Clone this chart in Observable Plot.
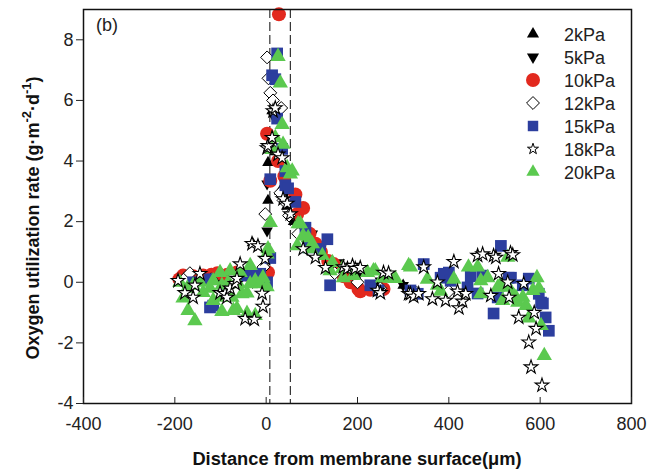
<!DOCTYPE html>
<html>
<head>
<meta charset="utf-8">
<script src="https://cdn.jsdelivr.net/npm/d3@7"></script>
<script src="https://cdn.jsdelivr.net/npm/@observablehq/plot@0.6"></script>
<style>
  html, body { margin: 0; padding: 0; background: #fff; }
  #chart { position: relative; width: 671px; height: 471px; }
</style>
</head>
<body>
<div id="chart"></div>
<script>
// ---- Data ----
const seriesNames = ["2kPa", "5kPa", "10kPa", "12kPa", "15kPa", "18kPa", "20kPa"];
const xTicks = [-400, -200, 0, 200, 400, 600, 800];
const yTicks = [-4, -2, 0, 2, 4, 6, 8];
const boundaryLines = [8, 53];

const kPa2 = [[-185,0.05],[-150,0.1],[-100,0.1],[-60,0.15],[-30,1.3],[0,0.2],[4,2.7],[4,3.95],[13,5.65],[20,4.3],[30,3.0],[45,2.5],[60,2.0],[80,1.5],[100,1.0],[150,0.4],[200,0.1],[250,0],[300,-0.1]];
const kPa5 = [[-150,0.1],[-100,0],[-30,0],[2,1.7],[2,3.25],[15,5.5],[30,4.3],[45,3.0],[81,2.45],[97,1.6],[101,1.6],[120,1.1],[160,0.65],[200,0.2],[250,0.05],[300,-0.1]];
const kPa10 = [[-190,0.1],[-182,0.22],[-160,0.2],[-138,0.22],[-120,0.25],[-107,0.3],[-85,0.25],[-64,0.32],[-40,0.25],[-20,0.25],[4,0.32],[2,4.9],[9,3.35],[28,8.84],[26,4.0],[40,3.5],[64,2.9],[68,2.25],[81,2.45],[95,1.6],[108,1.27],[120,1.0],[136,0.7],[148,0.6],[170,0.2],[185,0],[202,-0.22],[206,-0.3],[228,-0.25],[257,-0.22]];
const kPa12 = [[-180,0.1],[-167,0.3],[-120,0.1],[-70,0.2],[-6,0.5],[-2,2.25],[2,7.42],[5,6.73],[9,6.25],[15,6.0],[33,5.75],[31,2.95],[38,2.7],[50,2.2],[70,1.6],[100,1.0],[150,0.3],[200,0],[250,-0.2],[330,-0.35],[400,-0.3]];
const kPa15 = [[-160,0],[-123,0.1],[-123,-0.83],[-116,-0.77],[-94,-0.3],[-42,0.22],[-40,0.28],[-28,0.28],[-20,0.2],[-13,0.28],[2,0],[9,0.8],
  [9,3.4],[13,6.83],[20,6.7],[24,7.55],[24,5.4],[35,4.4],[42,3.67],[42,3.2],[48,3.1],[64,2.65],[86,1.8],[92,1.15],[118,1.1],[134,1.42],[140,-0.1],
  [228,-0.1],[246,-0.27],[316,-0.27],[332,-0.38],[345,0.6],[382,0.15],[389,0.28],[400,0.32],[404,0.05],[441,-0.17],[448,0.2],[463,-0.37],[474,0.22],[498,-1.03],[507,-0.5],[514,1.2],[531,0.15],[536,0.15],[562,-0.1],[575,0.12],[597,-0.38],[602,-0.67],[606,-0.7],[612,-1.16],[619,-1.6]];
const kPa18 = [[-193,0.05],[-178,-0.35],[-160,-0.5],[-156,-0.1],[-145,0.28],[-101,-0.35],[-90,-0.38],[-86,-0.5],[-79,-0.2],[-68,-0.05],[-64,0.12],[-57,0.6],[-46,-1.2],[-26,-1.23],[-31,1.27],[-18,1.2],[-9,-0.37],[-7,-0.8],[-2,0.78],
  [2,4.43],[4,4.5],[13,4.77],[15,5.65],[20,5.75],[26,4.22],[35,4.1],[37,2.75],[46,2.6],[53,2.25],[81,1.1],[108,0.82],[130,0.48],[169,0.5],[178,0.45],[189,0.55],[195,0.45],[206,0.48],[244,-0.27],[250,-0.35],[257,0.32],[268,0.3],
  [312,-0.38],[316,-0.38],[323,-0.47],[334,-0.38],[345,0.5],[364,-0.55],[375,0],[393,-0.6],[411,0.68],[419,-0.3],[422,-0.85],[430,-0.63],[437,-0.38],[463,0.88],[474,0.93],[492,-0.44],[498,0.88],[503,0.82],[509,0.28],[529,0],[532,-0.5],[535,0.97],[540,0.9],[553,-1.16],[564,-0.05],[575,-1.98],[580,-2.8],[587,-1.0],[591,-1.53],[604,-3.4]];
const kPa20 = [[-189,0],[-182,-0.52],[-173,-0.2],[-171,-0.93],[-160,-0.1],[-156,-1.27],[-145,0],[-138,-0.34],[-123,-0.2],[-116,0.05],[-116,-0.6],[-101,0.32],[-97,-0.1],[-101,-0.5],[-97,-0.97],[-83,0],[-79,0.38],[-75,-0.5],[-72,-0.93],[-64,-0.87],[-61,-0.05],[-57,0.32],[-53,-0.38],[-42,-1.03],[-42,-0.36],[-35,0.55],[-35,-0.05],[-24,0.05],[-24,-1.1],[-13,-0.05],[-7,0.15],[2,0.93],[2,-0.15],[4,1.1],[9,1.97],
  [13,4.38],[20,4.77],[26,7.45],[31,6.57],[35,5.2],[37,4.55],[46,3.78],[53,3.57],[57,3.67],[68,1.2],[70,1.93],[75,1.93],[81,1.53],[92,1.47],[97,1.1],[101,1.27],[123,0.88],[140,0.38],[145,0.65],[167,0.45],[169,0.15],[191,0.22],[222,0.32],[235,0.38],[239,0.38],[255,0.15],[257,0.15],[272,0.13],[283,0.12],
  [312,0.55],[316,0.5],[353,0.1],[375,-0.1],[382,-0.3],[411,0.1],[443,0.5],[463,0.5],[470,-0.38],[470,0.05],[485,0.15],[507,-0.17],[514,-0.05],[518,-0.6],[529,0.82],[531,-0.17],[542,-0.44],[547,-0.5],[551,-0.66],[562,-0.5],[569,-0.77],[575,-1.18],[584,-0.27],[593,0.15],[597,-0.2],[602,-1.43],[609,-2.42]];

// ---- Styles ----
const triangleDown = {
  draw(ctx, size) {
    const y = Math.sqrt(size / (3 * Math.sqrt(3)));
    ctx.moveTo(0, 2 * y);
    ctx.lineTo(-Math.sqrt(3) * y, -y);
    ctx.lineTo(Math.sqrt(3) * y, -y);
    ctx.closePath();
  }
};
const styles = {
  "2kPa":  {data: kPa2,  symbol: d3.symbolTriangle, r: 4.3, fill: "#000", stroke: "none", sw: 1, lg: 1.1},
  "5kPa":  {data: kPa5,  symbol: triangleDown, r: 4.3, fill: "#000", stroke: "none", sw: 1, lg: 1.1},
  "10kPa": {data: kPa10, symbol: d3.symbolCircle, r: 7, fill: "#e2291e", stroke: "none", sw: 1, lg: 1},
  "12kPa": {data: kPa12, symbol: d3.symbolDiamond2, r: 5.8, fill: "#fff", stroke: "#000", sw: 1, lg: 1},
  "15kPa": {data: kPa15, symbol: d3.symbolSquare, r: 6.6, fill: "#2c3e9e", stroke: "none", sw: 1, lg: 0.8},
  "18kPa": {data: kPa18, symbol: d3.symbolStar, r: 4.3, fill: "#fff", stroke: "#000", sw: 1.1, lg: 0.65},
  "20kPa": {data: kPa20, symbol: d3.symbolTriangle, r: 5.7, fill: "#5bc94f", stroke: "none", sw: 1, lg: 0.75}
};
const drawOrder = ["2kPa", "5kPa", "10kPa", "12kPa", "15kPa", "20kPa", "18kPa"];

const W = 671, H = 471;
const mL = 83, mR = 40, mT = 9, mB = 68;

const plot = Plot.plot({
  width: W,
  height: H,
  marginLeft: mL,
  marginRight: mR,
  marginTop: mT,
  marginBottom: mB,
  style: {fontFamily: "'Liberation Sans', Arial, sans-serif", fontSize: "18px", color: "#222", background: "#fff"},
  x: {domain: [-400, 800]},
  y: {domain: [-4, 9]},
  marks: [
    Plot.ruleX(boundaryLines, {stroke: "#333", strokeWidth: 1.2, strokeDasharray: "9,4"}),
    ...drawOrder.map(name => {
      const s = styles[name];
      return Plot.dot(s.data, {
        x: d => d[0], y: d => d[1],
        symbol: () => s.symbol, r: s.r,
        fill: s.fill, stroke: s.stroke, strokeWidth: s.sw, fillOpacity: 1
      });
    }),
    Plot.frame({stroke: "#111", strokeWidth: 1.5}),
    Plot.axisX({ticks: xTicks, tickSize: -6, tickPadding: 20, label: null, tickFormat: d => String(d)}),
    Plot.axisY({ticks: yTicks, tickSize: 7, tickPadding: 3, label: null, tickFormat: d => String(d)})
  ]
});
document.getElementById("chart").appendChild(plot);

// ---- Texts and legend ----
const svg = d3.select(plot);
const font = "'Liberation Sans', Arial, sans-serif";

// panel label
svg.append("text").attr("x", 96).attr("y", 31).attr("text-anchor", "start")
  .attr("font-family", font).attr("font-size", 18).attr("fill", "#222").text("(b)");

// x label
svg.append("text").attr("x", (mL + W - mR) / 2).attr("y", 465)
  .attr("text-anchor", "middle").attr("font-family", font).attr("font-size", 18.3).attr("font-weight", "bold").attr("fill", "#111")
  .text("Distance from membrane surface(μm)");

// y label with superscripts
const yl = svg.append("text").attr("transform", `translate(39,218) rotate(-90)`)
  .attr("text-anchor", "middle").attr("font-family", font).attr("font-size", 18).attr("font-weight", "bold").attr("fill", "#111");
yl.append("tspan").text("Oxygen utilization rate (g·m");
yl.append("tspan").attr("font-size", 13).attr("dy", -8).text("-2");
yl.append("tspan").attr("dy", 8).text("·d");
yl.append("tspan").attr("font-size", 13).attr("dy", -8).text("-1");
yl.append("tspan").attr("dy", 8).text(")");

// legend
const lg = svg.append("g");
seriesNames.forEach((name, i) => {
  const s = styles[name];
  const cy = 34 + i * 23;
  const size = Math.PI * s.r * s.r * s.lg;
  lg.append("path").attr("transform", `translate(533,${cy})`)
    .attr("d", d3.symbol(s.symbol, size)())
    .attr("fill", s.fill).attr("stroke", s.stroke).attr("stroke-width", 1);
  lg.append("text").attr("x", 564).attr("y", cy + 6.5).attr("text-anchor", "start")
    .attr("font-family", font).attr("font-size", 18).attr("fill", "#222").text(name);
});
</script>
</body>
</html>
